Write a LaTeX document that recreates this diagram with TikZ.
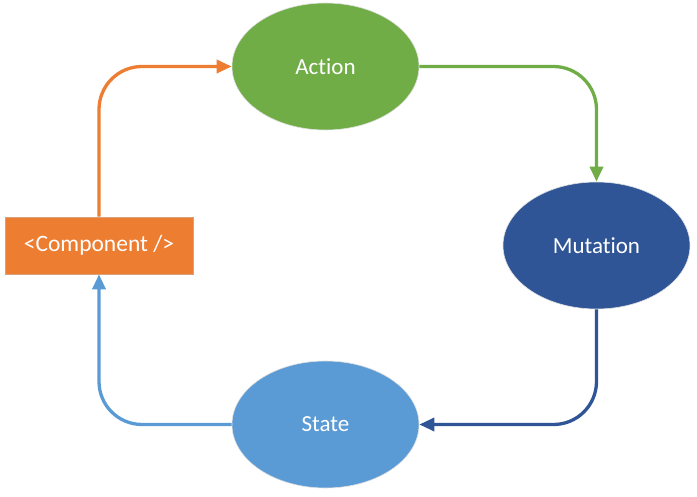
\documentclass[tikz,border=0pt]{standalone}
\usepackage{fontspec}
\setmainfont{Carlito}[Ligatures=NoCommon]
\usetikzlibrary{shapes.geometric,arrows.meta}
\definecolor{corange}{HTML}{ED7D31}
\definecolor{cgreen}{HTML}{70AD47}
\definecolor{cdblue}{HTML}{2F5597}
\definecolor{clblue}{HTML}{5B9BD5}
\tikzset{
  oval/.style={ellipse, minimum width=187pt, minimum height=127pt, inner sep=0pt, text=white, font=\fontsize{23}{27}\selectfont, draw=black!12, line width=0.6pt},
  box/.style={rectangle, minimum width=188pt, minimum height=57pt, inner sep=0pt, text=white, fill=corange, draw=corange!80!black!60, line width=0.6pt, font=\fontsize{23.5}{27}\selectfont},
  conn/.style={line width=3.3pt, rounded corners=43pt, -{Triangle[length=15pt,width=13pt]}},
}
\begin{document}
\begin{tikzpicture}[x=1pt,y=-1pt]
\useasboundingbox (0,0) rectangle (697,497);
\node[oval, fill=cgreen] (action) at (325.5,66.5) {Action};
\node[oval, fill=cdblue] (mutation) at (596.5,245.5) {Mutation};
\node[oval, fill=clblue] (state) at (325.5,424.5) {State};
\node[box] (comp) at (99,245.5) {<Component />};
\draw[conn, corange] (comp.north) |- (action.west);
\draw[conn, cgreen] (action.east) -| (mutation.north);
\draw[conn, cdblue] (mutation.south) |- (state.east);
\draw[conn, clblue] (state.west) -| (comp.south);
\end{tikzpicture}
\end{document}
